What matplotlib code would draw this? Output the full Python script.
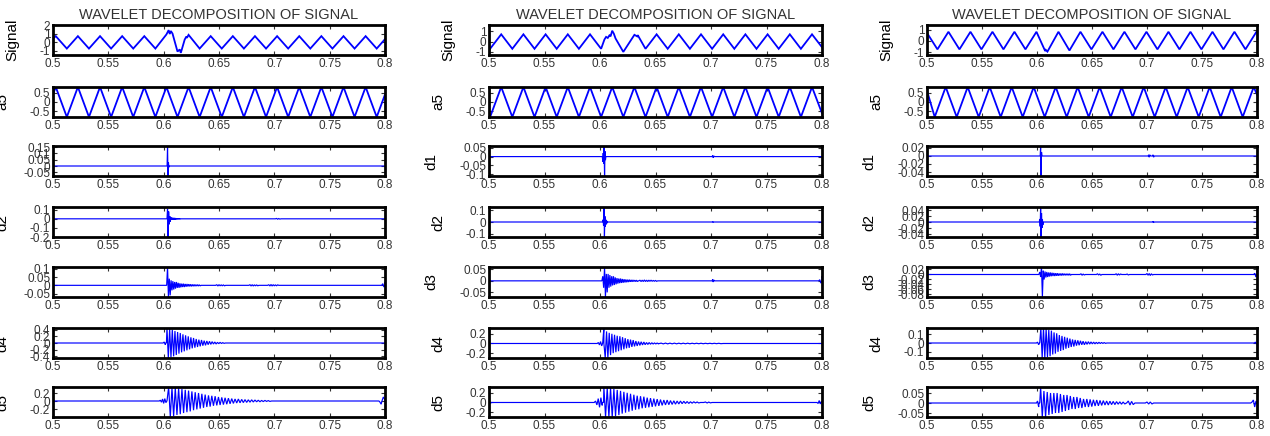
import numpy as np
import matplotlib
matplotlib.use('Agg')
import matplotlib.pyplot as plt

plt.rcParams['font.family'] = ['Liberation Sans', 'DejaVu Sans']

# Row names and x axis
row_names = ['Signal', 'a5', 'd1', 'd2', 'd3', 'd4', 'd5']
x_ticks = [0.5, 0.55, 0.6, 0.65, 0.7, 0.75, 0.8]
title = 'WAVELET DECOMPOSITION OF SIGNAL'

# y limits and y ticks per column (rows: Signal, a5, d1..d5)
c1_ylim = [(-1.5, 2), (-0.8, 0.8), (-0.08, 0.16), (-0.2, 0.13), (-0.07, 0.11), (-0.45, 0.45), (-0.4, 0.35)]
c1_yticks = [[-1, 0, 1, 2], [-0.5, 0, 0.5], [-0.05, 0, 0.05, 0.1, 0.15], [-0.2, -0.1, 0, 0.1],
             [-0.05, 0, 0.05, 0.1], [-0.4, -0.2, 0, 0.2, 0.4], [-0.2, 0, 0.2]]
c2_ylim = [(-1.3, 1.6), (-0.8, 0.8), (-0.11, 0.06), (-0.13, 0.13), (-0.07, 0.06), (-0.3, 0.32), (-0.3, 0.32)]
c2_yticks = [[-1, 0, 1], [-0.5, 0, 0.5], [-0.1, -0.05, 0, 0.05], [-0.1, 0, 0.1],
             [-0.05, 0, 0.05], [-0.2, 0, 0.2], [-0.2, 0, 0.2]]
c3_ylim = [(-1.25, 1.4), (-0.8, 0.8), (-0.05, 0.025), (-0.05, 0.05), (-0.09, 0.03), (-0.17, 0.17), (-0.07, 0.08)]
c3_yticks = [[-1, 0, 1], [-0.5, 0, 0.5], [-0.04, -0.02, 0, 0.02], [-0.04, -0.02, 0, 0.02, 0.04],
             [-0.08, -0.06, -0.04, -0.02, 0, 0.02], [-0.1, 0, 0.1], [-0.05, 0, 0.05]]

# Signal / a5: values at successive peaks and troughs (half period 0.01 s)
c1_t0 = 0.5025
c1_sig = [0.7, -0.75, 0.7, -0.75, 0.7, -0.75, 0.7, -0.75, 0.7, -0.75,
          0.9, -1.1, 0.85, -0.75, 0.7, -0.75, 0.7, -0.75, 0.7, -0.75,
          0.7, -0.75, 0.7, -0.75, 0.7, -0.75, 0.7, -0.75, 0.7, -0.75]
c1_sig_ends = [0.4, 0.35]
c1_sig_extra = [(0.6045, 1.4), (0.6055, 0.95), (0.6065, 1.3), (0.608, 1.0),
                (0.6145, -0.85), (0.6155, -1.25), (0.619, 0.3), (0.6205, 0.65), (0.621, 0.5)]
c1_a5 = [0.8, -0.8] * 15
c1_a5_ends = [0.4, 0.4]

c2_t0 = 0.501
c2_sig = [-0.7, 0.7, -0.7, 0.7, -0.7, 0.7, -0.7, 0.7, -0.7, 0.7,
          -0.7, 1.05, -1.0, 0.65, -0.7, 0.7, -0.7, 0.7, -0.7, 0.7,
          -0.7, 0.7, -0.7, 0.7, -0.7, 0.7, -0.7, 0.7, -0.7, 0.7]
c2_sig_ends = [-0.6, -0.55]
c2_sig_extra = [(0.604, 0.2), (0.6055, 0.45), (0.607, 0.35), (0.6085, 0.6), (0.6095, 0.5),
                (0.6125, 0.75), (0.614, 0.3), (0.6335, 0.5), (0.634, 0.62)]
c2_a5 = [-0.8, 0.8] * 15
c2_a5_ends = [-0.7, -0.6]

c3_t0 = 0.5095
c3_sig = [-0.75, 0.8, -0.75, 0.8, -0.75, 0.8, -0.75, 0.8, -0.75, 0.8,
          -0.95, 0.8, -0.85, 0.8, -0.75, 0.8, -0.75, 0.8, -0.75, 0.8,
          -0.75, 0.8, -0.75, 0.8, -0.75, 0.8, -0.75, 0.8, -0.75, 0.8]
c3_sig_ends = [0.7, 0.75]
c3_sig_extra = [(0.6065, -0.7), (0.6075, -0.9), (0.608, -0.8)]
c3_a5 = [-0.8, 0.8] * 15
c3_a5_ends = [0.6, 0.4]

# Details: bursts as (start time, sample step, values)
c1_d1 = [(0.6035, 0.0004, [0.16, -0.08, 0.03, -0.01])]
c1_d2 = [(0.6035, 0.0005, [0.11, -0.2, 0.08, -0.06, 0.03, -0.03, 0.015, -0.01, 0.012, -0.01, 0.01, -0.008,
                           0.01, -0.008, 0.008, -0.006, 0.006, -0.005, 0.005, -0.004, 0.004, -0.003, 0.003, -0.003]),
         (0.702, 0.001, [0.004, -0.004, 0.003, -0.003])]
c1_d3 = [(0.6035, 0.0008, [0.11, -0.07, 0.04, -0.06, 0.03, -0.03, 0.025, -0.025, 0.02, -0.02, 0.02, -0.015,
                           0.015, -0.015, 0.012, -0.012, 0.01, -0.01, 0.01, -0.01, 0.008, -0.008, 0.008, -0.007,
                           0.007, -0.006, 0.006, -0.006, 0.005, -0.005, 0.005, -0.005, 0.004, -0.004, 0.004,
                           -0.004, 0.003, -0.003]),
         (0.648, 0.001, [0.004, -0.004, 0.004, -0.003, 0.003, -0.003, 0.003, -0.003]),
         (0.678, 0.001, [0.004, -0.004, 0.004, -0.004, 0.003, -0.003, 0.003, -0.003]),
         (0.695, 0.001, [0.004, -0.004, 0.005, -0.004, 0.004, -0.003, 0.003, -0.003, 0.003]),
         (0.798, 0.001, [0.01, -0.01, 0.02])]
c1_d4 = [(0.6005, 0.001, [0.03, -0.05]),
         (0.603, 0.0012, [0.45, -0.45, 0.42, -0.43, 0.4, -0.4, 0.36, -0.36, 0.33, -0.32, 0.3, -0.28, 0.26, -0.25,
                          0.23, -0.22, 0.2, -0.19, 0.17, -0.16, 0.15, -0.14, 0.12, -0.12, 0.1, -0.1, 0.09, -0.08,
                          0.07, -0.07, 0.06, -0.05, 0.05, -0.04, 0.04, -0.03, 0.03, -0.03, 0.02, -0.02, 0.02,
                          -0.015, 0.01, -0.01])]
c1_d5 = [(0.5005, 0.0008, [0.02, -0.02]),
         (0.597, 0.001, [0.02, -0.03, 0.05, -0.06, 0.06, -0.04]),
         (0.6045, 0.0015, [0.35, -0.4, 0.34, -0.38, 0.33, -0.35, 0.32, -0.33, 0.3, -0.3, 0.28, -0.28, 0.26, -0.26,
                           0.24, -0.23, 0.22, -0.21, 0.2, -0.19, 0.18, -0.17, 0.16, -0.15, 0.14, -0.14, 0.13, -0.12,
                           0.12, -0.11, 0.1, -0.1, 0.09, -0.09, 0.08, -0.08, 0.07, -0.07, 0.06, -0.06, 0.05, -0.05,
                           0.05, -0.045, 0.04, -0.04, 0.035, -0.035, 0.03, -0.03, 0.03, -0.025, 0.025, -0.02, 0.02,
                           -0.02, 0.015, -0.015, 0.015, -0.01, 0.01, -0.01]),
         (0.7955, 0.001, [-0.03, -0.08, 0.02, 0.1, 0.05])]

c2_d1 = [(0.6025, 0.0004, [-0.03, 0.02, -0.04, 0.06, -0.11, 0.03, -0.02]),
         (0.7015, 0.0005, [0.006, -0.006, 0.004])]
c2_d2 = [(0.6028, 0.0004, [0.02, -0.03, 0.13, -0.13, 0.05, -0.04, 0.02, -0.02, 0.01, -0.01]),
         (0.7015, 0.0005, [0.004, -0.004])]
c2_d3 = [(0.6025, 0.0008, [0.02, -0.03, 0.06, -0.07, 0.03, -0.05, 0.03, -0.03, 0.025, -0.025, 0.02, -0.02, 0.02,
                           -0.018, 0.015, -0.015, 0.012, -0.012, 0.01, -0.01, 0.01, -0.009, 0.008, -0.008, 0.007,
                           -0.007, 0.006, -0.006, 0.005, -0.005, 0.005, -0.004, 0.004, -0.004, 0.004, -0.003, 0.003,
                           -0.003, 0.003, -0.003]),
         (0.636, 0.001, [0.003, -0.003, 0.003, -0.003, 0.004, -0.003, 0.003, -0.003, 0.003, -0.002, 0.003, -0.002,
                         0.002, -0.002, 0.002, -0.002]),
         (0.7015, 0.0005, [0.006, -0.005, 0.004]),
         (0.798, 0.001, [0.005, -0.01, 0.02])]
c2_d4 = [(0.5985, 0.001, [0.02, -0.03, 0.04, -0.05, 0.03]),
         (0.6035, 0.0012, [0.32, -0.3, 0.25, -0.3, 0.22, -0.24, 0.2, -0.2, 0.18, -0.18, 0.16, -0.16, 0.15, -0.14,
                           0.13, -0.12, 0.11, -0.1, 0.09, -0.09, 0.08, -0.07, 0.07, -0.06, 0.05, -0.05, 0.04, -0.04,
                           0.035, -0.03, 0.03, -0.025, 0.02, -0.02, 0.02, -0.015, 0.015, -0.012, 0.012, -0.01, 0.01,
                           -0.01]),
         (0.655, 0.002, [0.008, -0.008, 0.008, -0.008, 0.007, -0.007, 0.007, -0.007, 0.006, -0.006, 0.006, -0.006,
                         0.006, -0.006, 0.005, -0.005, 0.005, -0.005, 0.005, -0.005, 0.004, -0.004, 0.004, -0.004,
                         0.004, -0.004, 0.004, -0.004])]
c2_d5 = [(0.5005, 0.0008, [0.02, -0.02]),
         (0.596, 0.0012, [0.03, -0.05, 0.08, -0.1, 0.1, -0.06]),
         (0.6035, 0.0015, [0.32, -0.3, 0.3, -0.3, 0.3, -0.3, 0.28, -0.28, 0.26, -0.26, 0.24, -0.23, 0.22, -0.21,
                           0.2, -0.19, 0.18, -0.17, 0.16, -0.15, 0.14, -0.14, 0.13, -0.12, 0.12, -0.11, 0.1, -0.1,
                           0.09, -0.09, 0.08, -0.08, 0.07, -0.07, 0.06, -0.06, 0.05, -0.05, 0.05, -0.045, 0.04,
                           -0.04, 0.035, -0.035, 0.03, -0.03, 0.03, -0.025, 0.025, -0.02, 0.02, -0.02, 0.015,
                           -0.015, 0.015, -0.01, 0.01, -0.01]),
         (0.695, 0.0015, [0.01, -0.01, 0.008, -0.008]),
         (0.7965, 0.001, [-0.02, 0.04, -0.03, 0.02])]

c3_d1 = [(0.6033, 0.0004, [0.025, -0.05, 0.01]),
         (0.7015, 0.0005, [0.003, -0.003, 0.003]),
         (0.7055, 0.0005, [0.003, -0.003])]
c3_d2 = [(0.6025, 0.0004, [0.01, -0.015, 0.05, -0.05, 0.03, -0.02, 0.01, -0.01]),
         (0.7055, 0.0005, [0.002, -0.002])]
c3_d3 = [(0.6025, 0.0008, [0.01, -0.01, 0.03, -0.09, 0.015, -0.02, 0.012, -0.012, 0.01, -0.01, 0.008, -0.008,
                           0.008, -0.007, 0.007, -0.006, 0.006, -0.006, 0.005, -0.005, 0.005, -0.005, 0.004, -0.004,
                           0.004, -0.004, 0.004, -0.003, 0.003, -0.003, 0.003, -0.003, 0.003, -0.003, 0.003, -0.003]),
         (0.64, 0.001, [0.003, -0.003, 0.002, -0.002]),
         (0.655, 0.001, [0.003, -0.002, 0.002, -0.003]),
         (0.672, 0.001, [0.003, -0.003, 0.003, -0.002, 0.002]),
         (0.682, 0.001, [0.002, -0.002]),
         (0.7, 0.001, [0.004, -0.003, 0.004, -0.004, 0.003, -0.002]),
         (0.798, 0.001, [0.005, -0.01, 0.015])]
c3_d4 = [(0.6005, 0.001, [0.01, -0.02]),
         (0.6035, 0.0012, [0.17, -0.17, 0.17, -0.17, 0.16, -0.16, 0.15, -0.15, 0.14, -0.13, 0.12, -0.12, 0.11, -0.1,
                           0.09, -0.09, 0.08, -0.08, 0.07, -0.065, 0.06, -0.055, 0.05, -0.045, 0.04, -0.04, 0.035,
                           -0.03, 0.03, -0.025, 0.025, -0.02, 0.02, -0.02, 0.015, -0.015, 0.015, -0.012, 0.012, -0.01,
                           0.01, -0.01, 0.008, -0.008, 0.008, -0.006, 0.006, -0.005, 0.005, -0.004]),
         (0.7985, 0.0008, [0.01, -0.01])]
c3_d5 = [(0.6005, 0.001, [0.01, -0.02]),
         (0.6033, 0.0015, [0.08, -0.07, 0.06, -0.07, 0.055, -0.06, 0.05, -0.055, 0.05, -0.05, 0.05, -0.05, 0.045,
                           -0.045, 0.04, -0.04, 0.04, -0.035, 0.035, -0.03, 0.03, -0.03, 0.03, -0.025, 0.025, -0.025,
                           0.02, -0.02, 0.02, -0.02, 0.018, -0.018, 0.016, -0.015, 0.015, -0.014, 0.013, -0.012,
                           0.012, -0.01, 0.01, -0.01, 0.009, -0.008, 0.008, -0.008, 0.007, -0.006, 0.006, -0.006,
                           0.005, -0.005]),
         (0.683, 0.0015, [0.01, -0.01, 0.008, -0.008]),
         (0.7, 0.0015, [0.005, -0.005, 0.005, -0.005]),
         (0.7955, 0.0012, [0.005, 0.015, -0.02, 0.01])]


def wave(t0, vals, ends, extra=()):
    t = list(t0 + 0.01 * np.arange(len(vals))) + [0.5, 0.8] + [p[0] for p in extra]
    v = list(vals) + list(ends) + [p[1] for p in extra]
    order = np.argsort(t)
    return np.array(t)[order], np.array(v)[order]


def detail(blocks):
    t = [0.5, 0.8]
    v = [0.0, 0.0]
    for start, step, vals in blocks:
        tt = start + step * np.arange(len(vals))
        t += [start - step] + list(tt) + [tt[-1] + step]
        v += [0.0] + list(vals) + [0.0]
    order = np.argsort(t)
    return np.array(t)[order], np.array(v)[order]


columns = [
    dict(left=53, width=332, ylim=c1_ylim, yticks=c1_yticks,
         series=[wave(c1_t0, c1_sig, c1_sig_ends, c1_sig_extra), wave(c1_t0, c1_a5, c1_a5_ends),
                 detail(c1_d1), detail(c1_d2), detail(c1_d3), detail(c1_d4), detail(c1_d5)]),
    dict(left=489, width=333, ylim=c2_ylim, yticks=c2_yticks,
         series=[wave(c2_t0, c2_sig, c2_sig_ends, c2_sig_extra), wave(c2_t0, c2_a5, c2_a5_ends),
                 detail(c2_d1), detail(c2_d2), detail(c2_d3), detail(c2_d4), detail(c2_d5)]),
    dict(left=927, width=330, ylim=c3_ylim, yticks=c3_yticks,
         series=[wave(c3_t0, c3_sig, c3_sig_ends, c3_sig_extra), wave(0.507, c3_a5, c3_a5_ends),
                 detail(c3_d1), detail(c3_d2), detail(c3_d3), detail(c3_d4), detail(c3_d5)]),
]
row_tops = [25, 87, 146, 207, 267, 328, 387]
row_h = 30
W, H = 1270, 436

fig = plt.figure(figsize=(W / 100, H / 100), dpi=100)

for col in columns:
    for r, name in enumerate(row_names):
        ax = fig.add_axes([col['left'] / W, 1 - (row_tops[r] + row_h) / H, col['width'] / W, row_h / H])
        t, v = col['series'][r]
        ax.plot(t, v, color='#0000ff', lw=1.3 if r < 2 else 0.85, solid_joinstyle='miter')
        ax.set_xlim(0.5, 0.8)
        ax.set_ylim(*col['ylim'][r])
        ax.set_xticks(x_ticks)
        ax.set_xticklabels(['%g' % x for x in x_ticks])
        ax.set_yticks(col['yticks'][r])
        ax.set_yticklabels(['%g' % y for y in col['yticks'][r]])
        ax.tick_params(direction='in', top=True, right=True, length=3, width=0.8,
                       labelsize=8.5, pad=2, colors='#333333')
        for s in ax.spines.values():
            s.set_linewidth(2.0)
        ax.set_ylabel(name, fontsize=11, labelpad=15)
        if r == 0:
            ax.set_title(title, fontsize=10.5, pad=4, color='#333333')

plt.savefig('out.png', dpi=100)
